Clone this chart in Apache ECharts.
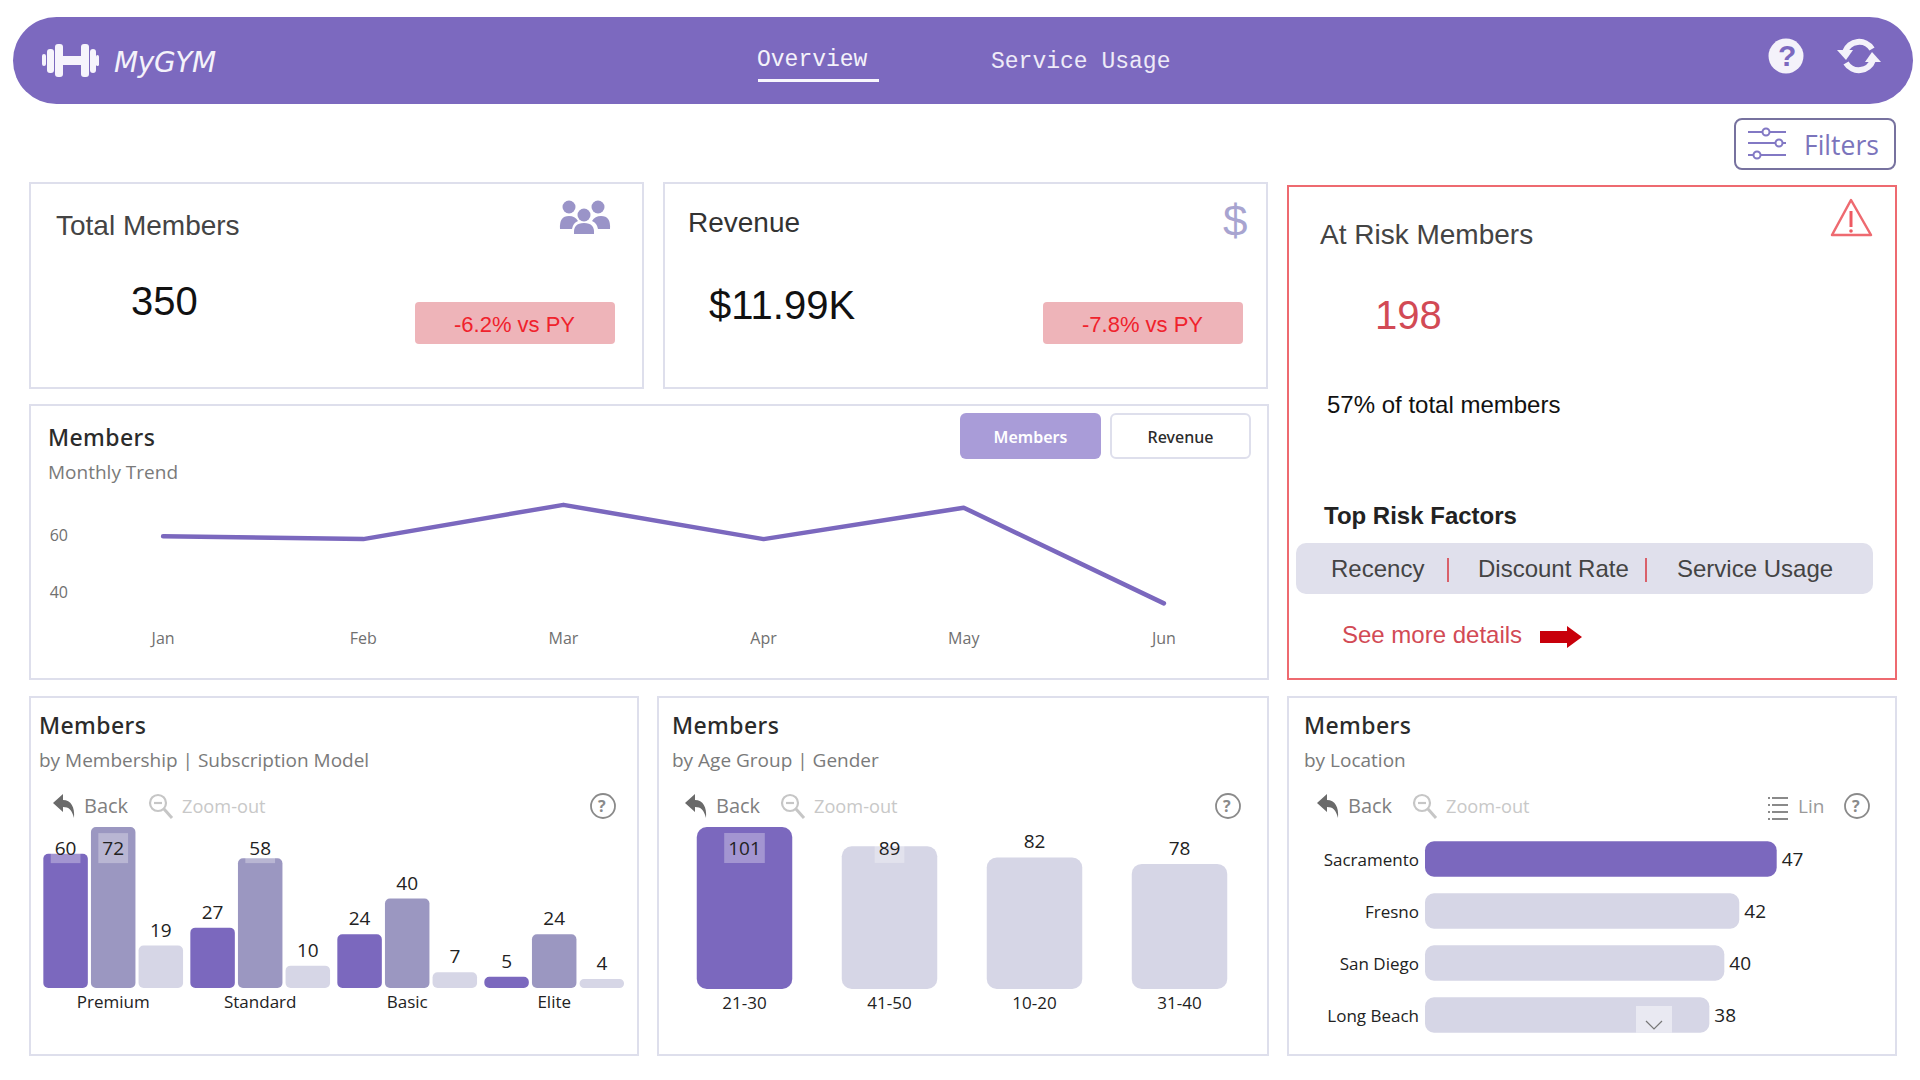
<!DOCTYPE html>
<html>
<head>
<meta charset="utf-8">
<title>MyGYM</title>
<script src="https://cdn.jsdelivr.net/npm/echarts@6/dist/echarts.min.js"></script>
<style>
  html, body { margin: 0; width: 1920px; height: 1080px; overflow: hidden; background: #fff; }
  body { position: relative; font-family: "Liberation Sans", Arial, sans-serif; color: #444; }
  .box { position: absolute; box-sizing: border-box; }
  .card { border: 2px solid #dedfec; }
  .t { position: absolute; transform: translateY(-50%); white-space: nowrap; line-height: 1; }
  .ui { font-family: "Open Sans", sans-serif; }
  .title { font-family: "Noto Sans", sans-serif; font-weight: 500; font-size: 23px; letter-spacing: .4px; color: #2b2b2b; }
  .sub { font-size: 19px; color: #7a7a7a; }
  .chart { position: absolute; }
  svg.icon { position: absolute; overflow: visible; }
</style>
</head>
<body>

<!-- bandeau du haut -->
<div class="box" style="left:13px;top:17px;width:1900px;height:87px;border-radius:44px;background:#7c69bf"></div>
<svg class="icon" style="left:0;top:0" width="10" height="10">
  <g fill="#f6f4fc">
    <rect x="42" y="54" width="4" height="12" rx="2"/>
    <rect x="47" y="49" width="7" height="24" rx="3"/>
    <rect x="55" y="44" width="8" height="33" rx="3"/>
    <rect x="62" y="56" width="21" height="9"/>
    <rect x="81" y="44" width="8" height="33" rx="3"/>
    <rect x="90" y="49" width="6" height="24" rx="3"/>
    <rect x="96" y="55" width="3" height="11" rx="1.5"/>
  </g>
  <circle cx="1786" cy="56" r="17.5" fill="#f4f2fa"/>
  <g fill="none" stroke="#f4f2fa" stroke-width="6">
    <path d="M1845 52 A15 15 0 0 1 1872 49"/>
    <path d="M1873 60 A15 15 0 0 1 1846 63"/>
  </g>
  <path d="M1837 50 L1853 50 L1846 60 Z" fill="#f4f2fa"/>
  <path d="M1881 62 L1865 62 L1872 52 Z" fill="#f4f2fa"/>
</svg>
<div class="t" style="left:114px;top:62px;font:italic 28px 'DejaVu Sans';color:#f4f2fa;letter-spacing:-.4px">MyGYM</div>
<div class="t" style="left:757px;top:60px;font:23px 'Liberation Mono';color:#f4f2fa">Overview</div>
<div class="box" style="left:758px;top:79px;width:121px;height:3px;background:#f8f7fd"></div>
<div class="t" style="left:991px;top:62px;font:23px 'Liberation Mono';color:#eeebf8">Service Usage</div>
<div class="t" style="left:1786px;top:56px;width:0;font:bold 30px 'Liberation Sans';color:#7c69bf;text-indent:-8px">?</div>

<!-- bouton filtres -->
<div class="box" style="left:1734px;top:118px;width:162px;height:52px;border:2px solid #77729f;border-radius:8px"></div>
<svg class="icon" style="left:0;top:0" width="10" height="10">
  <g stroke="#8278c4" stroke-width="2" fill="#fff">
    <path d="M1748 132H1786M1748 143H1786M1748 155H1786"/>
    <circle cx="1766" cy="132" r="3.5"/><circle cx="1779" cy="143" r="3.5"/><circle cx="1757" cy="155" r="3.5"/>
  </g>
</svg>
<div class="t ui" style="left:1804px;top:145px;font-size:26.5px;color:#7b74bc">Filters</div>

<!-- KPI -->
<div class="box card" style="left:29px;top:182px;width:615px;height:207px"></div>
<div class="t" style="left:56px;top:226px;font-size:28px">Total Members</div>
<svg class="icon" style="left:0;top:0" width="10" height="10">
  <g fill="#9a94c8">
    <circle cx="569" cy="207" r="6.5"/><path d="M560 229 q-1 -13 9 -13 q6 0 9 5 q-5 2 -6 8 Z"/>
    <circle cx="598" cy="207" r="6.5"/><path d="M610 229 q1 -13 -9 -13 q-6 0 -9 5 q5 2 6 8 Z"/>
    <circle cx="584" cy="215" r="6.5"/><path d="M574 234 q-1 -11 10 -11 q11 0 10 11 Z"/>
  </g>
</svg>
<div class="t" style="left:131px;top:301px;font-size:40px;color:#111">350</div>
<div class="box" style="left:415px;top:302px;width:200px;height:42px;background:#eeb4b9;border-radius:4px"></div>
<div class="t" style="left:454px;top:325px;font-size:22px;color:#f0222c">-6.2% vs PY</div>

<div class="box card" style="left:663px;top:182px;width:605px;height:207px"></div>
<div class="t" style="left:688px;top:223px;font-size:28px;color:#333">Revenue</div>
<div class="t" style="left:1223px;top:221px;font-size:44px;color:#a8a4d0">$</div>
<div class="t" style="left:709px;top:305px;font-size:40px;color:#111">$11.99K</div>
<div class="box" style="left:1043px;top:302px;width:200px;height:42px;background:#eeb4b9;border-radius:4px"></div>
<div class="t" style="left:1082px;top:325px;font-size:22px;color:#f0222c">-7.8% vs PY</div>

<!-- carte membres a risque -->
<div class="box" style="left:1287px;top:185px;width:610px;height:495px;border:2px solid #ee6a70"></div>
<div class="t" style="left:1320px;top:235px;font-size:28px">At Risk Members</div>
<svg class="icon" style="left:0;top:0" width="10" height="10">
  <path d="M1851 200 L1871 235 H1832 Z" fill="none" stroke="#ee6a70" stroke-width="2.5" stroke-linejoin="round"/>
  <path d="M1851 211 V227" stroke="#ee5a62" stroke-width="3"/><circle cx="1851" cy="231" r="1.8" fill="#ee5a62"/>
  <path d="M1540 631 H1567 V626 L1582 637 L1567 648 V643 H1540 Z" fill="#c8000a"/>
</svg>
<div class="t" style="left:1375px;top:315px;font-size:40px;color:#d24a55">198</div>
<div class="t" style="left:1327px;top:405px;font-size:24px;color:#111">57% of total members</div>
<div class="t" style="left:1324px;top:516px;font-size:24px;font-weight:bold;color:#222">Top Risk Factors</div>
<div class="box" style="left:1296px;top:543px;width:577px;height:51px;background:#e0e0ec;border-radius:10px"></div>
<div class="t" style="left:1331px;top:569px;font-size:24px">Recency</div>
<div class="box" style="left:1447px;top:558px;width:2px;height:24px;background:#d9606a"></div>
<div class="t" style="left:1478px;top:569px;font-size:24px">Discount Rate</div>
<div class="box" style="left:1645px;top:558px;width:2px;height:24px;background:#d9606a"></div>
<div class="t" style="left:1677px;top:569px;font-size:24px">Service Usage</div>
<div class="t" style="left:1342px;top:635px;font-size:24px;color:#d24a55">See more details</div>

<!-- tendance mensuelle -->
<div class="box card" style="left:29px;top:404px;width:1240px;height:276px"></div>
<div class="t title" style="left:48px;top:437px">Members</div>
<div class="t ui sub" style="left:48px;top:472px">Monthly Trend</div>
<div class="box" style="left:960px;top:413px;width:141px;height:46px;background:#a99cd8;border-radius:6px"></div>
<div class="t title" style="left:960px;width:141px;text-align:center;top:437px;font-size:16px;font-weight:600;letter-spacing:0;color:#fff">Members</div>
<div class="box" style="left:1110px;top:413px;width:141px;height:46px;border:2px solid #dedfec;border-radius:6px"></div>
<div class="t title" style="left:1110px;width:141px;text-align:center;top:437px;font-size:16px;letter-spacing:0">Revenue</div>
<div class="chart" id="trendChart" style="left:29px;top:405px;width:1240px;height:275px"></div>

<!-- cartes du bas -->
<div class="box card" style="left:29px;top:696px;width:610px;height:360px"></div>
<div class="t title" style="left:39px;top:725px">Members</div>
<div class="t ui sub" style="left:39px;top:760px">by Membership | Subscription Model</div>
<div class="chart" id="membershipChart" style="left:29px;top:696px;width:610px;height:360px"></div>

<div class="box card" style="left:657px;top:696px;width:612px;height:360px"></div>
<div class="t title" style="left:672px;top:725px">Members</div>
<div class="t ui sub" style="left:672px;top:760px">by Age Group | Gender</div>
<div class="chart" id="ageChart" style="left:657px;top:696px;width:612px;height:360px"></div>

<div class="box card" style="left:1287px;top:696px;width:610px;height:360px"></div>
<div class="t title" style="left:1304px;top:725px">Members</div>
<div class="t ui sub" style="left:1304px;top:760px">by Location</div>
<div class="chart" id="locationChart" style="left:1287px;top:696px;width:610px;height:360px"></div>
<div class="box" style="left:1636px;top:1006px;width:36px;height:27px;background:#e9e9f2"></div>
<svg class="icon" style="left:0;top:0" width="10" height="10">
  <path d="M1646 1021 L1654 1029 L1662 1021" fill="none" stroke="#777" stroke-width="1.2"/>
  <g stroke="#8a8a8a" stroke-width="2">
    <path d="M1772 798H1788M1772 805H1788M1772 812H1788M1772 819H1788"/>
    <path d="M1768 798H1770M1768 805H1770M1768 812H1770M1768 819H1770"/>
  </g>
</svg>
<div class="t ui" style="left:1798px;top:806px;font-size:19px;color:#9a9a9a">Lin</div>

<script>
const FONT = 'Open Sans';
const PURPLE = '#7b68be';
const MID = '#9b97c1';
const LIGHT = '#d6d6e6';

const months = [ 'Jan', 'Feb', 'Mar', 'Apr', 'May', 'Jun' ];
const membersByMonth = [ 59.5, 58.5, 70.5, 58.5, 69.5, 36 ];
const trendTicks = [ 40, 60 ];

const tiers = [ 'Premium', 'Standard', 'Basic', 'Elite' ];
const subscriptionA = [ 60, 27, 24, 5 ];
const subscriptionB = [ 72, 58, 40, 24 ];
const subscriptionC = [ 19, 10, 7, 4 ];

const ageGroups = [ '21-30', '41-50', '10-20', '31-40' ];
const ageMembers = [ 101, 89, 82, 78 ];

const locations = [ 'Sacramento', 'Fresno', 'San Diego', 'Long Beach' ];
const locationMembers = [ 47, 42, 40, 38 ];

// Barre d'outils Back / Zoom-out / aide de chaque carte du bas
function addToolbar ( backX, helpX ) {
  const zoomX = backX + 96;
  document.body.insertAdjacentHTML( 'beforeend', `
    <svg class="icon" style="left:0;top:0" width="10" height="10">
      <path transform="translate(${ backX },794)" d="M10 0 L0 9 L10 18 V13 C16 13 19 16 21 24 C22 13 18 6 10 6 Z" fill="#6a6a6a"/>
      <g transform="translate(${ zoomX },794)" fill="none" stroke="#c6c6c6" stroke-width="2.2">
        <circle cx="9" cy="9" r="8"/><path d="M5 9H13"/><path d="M15 15L23 24" stroke-width="3"/>
      </g>
      <g>
        <circle cx="${ helpX }" cy="806" r="12" fill="none" stroke="#8a8a8a" stroke-width="1.8"/>
      </g>
    </svg>
    <div class="t ui" style="left:${ backX + 31 }px;top:806px;font-size:20px;color:#808080">Back</div>
    <div class="t ui" style="left:${ zoomX + 33 }px;top:806px;font-size:18.2px;color:#c8c8c8">Zoom-out</div>
    <div class="t ui" style="left:${ helpX - 5 }px;top:806px;font-size:16px;font-weight:700;color:#8a8a8a">?</div>
  ` );
}
addToolbar( 53, 603 );
addToolbar( 685, 1228 );
addToolbar( 1317, 1857 );

const trendChart = echarts.init( document.getElementById( 'trendChart' ), null, { renderer: 'svg' } );
trendChart.setOption( {
  animation: false,
  grid: { left: 34, width: 1201, top: 87, height: 128.5 },
  xAxis: {
    type: 'category',
    data: months,
    axisLine: { show: false },
    axisTick: { show: false },
    axisLabel: { fontFamily: FONT, fontSize: 16, color: '#707070', margin: 9 }
  },
  yAxis: {
    type: 'value',
    min: 30,
    max: 75,
    splitLine: { show: false },
    axisLine: { show: false },
    axisTick: { show: false },
    axisLabel: { customValues: trendTicks, fontFamily: FONT, fontSize: 16, color: '#707070', margin: -5 }
  },
  series: [ {
    type: 'line',
    data: membersByMonth,
    symbol: 'none',
    lineStyle: { color: PURPLE, width: 4.5, cap: 'round', join: 'round' }
  } ]
} );

/**
 * Etiquette d'une barre. Au dessus de "threshold" l'etiquette reste coincee sous la barre d'outils,
 * avec le petit fond translucide.
 */
function barLabel ( value, threshold, clampValue, pxPerUnit ) {
  if ( value < threshold ) {
    return { position: 'top', distance: 5 };
  }
  return {
    position: 'top',
    distance: 1,
    offset: [ 0, ( value - clampValue ) * pxPerUnit ],
    padding: [ 4, 4 ],
    backgroundColor: 'rgba(255,255,255,0.3)'
  };
}

const BAR_LABEL = { show: true, fontFamily: FONT, fontSize: 19, lineHeight: 22, color: '#222' };
const CAT_LABEL = { fontFamily: FONT, fontSize: 17, color: '#222', margin: 5 };

function hiddenValueAxis ( max ) {
  return { type: 'value', min: 0, max, show: false };
}

const membershipChart = echarts.init( document.getElementById( 'membershipChart' ), null, { renderer: 'svg' } );
membershipChart.setOption( {
  animation: false,
  grid: { left: 10.7, width: 588, top: 131, height: 161 },
  xAxis: { type: 'category', data: tiers, axisLine: { show: false }, axisTick: { show: false }, axisLabel: CAT_LABEL },
  yAxis: hiddenValueAxis( 72 ),
  series: [ [ subscriptionA, PURPLE ], [ subscriptionB, MID ], [ subscriptionC, LIGHT ] ].map( ( [ values, color ] ) => ( {
    type: 'bar',
    barWidth: 44.5,
    barGap: '7%',
    itemStyle: { color, borderRadius: 5 },
    label: BAR_LABEL,
    data: values.map( ( value ) => ( { value, label: barLabel( value, 55.4, 55.4, 161 / 72 ) } ) )
  } ) )
} );

const ageChart = echarts.init( document.getElementById( 'ageChart' ), null, { renderer: 'svg' } );
ageChart.setOption( {
  animation: false,
  grid: { left: 15, width: 580, top: 131, height: 162 },
  xAxis: { type: 'category', data: ageGroups, axisLine: { show: false }, axisTick: { show: false }, axisLabel: CAT_LABEL },
  yAxis: hiddenValueAxis( 101 ),
  series: [ {
    type: 'bar',
    barWidth: 95.5,
    itemStyle: { borderRadius: 10 },
    label: BAR_LABEL,
    data: ageMembers.map( ( value, i ) => ( {
      value,
      itemStyle: { color: i === 0 ? PURPLE : LIGHT },
      label: barLabel( value, 85, 78, 162 / 101 )
    } ) )
  } ]
} );

const locationChart = echarts.init( document.getElementById( 'locationChart' ), null, { renderer: 'svg' } );
locationChart.setOption( {
  animation: false,
  grid: { left: 138, width: 351.7, top: 137, height: 208 },
  xAxis: hiddenValueAxis( 47 ),
  yAxis: {
    type: 'category',
    inverse: true,
    data: locations,
    axisLine: { show: false },
    axisTick: { show: false },
    axisLabel: { fontFamily: FONT, fontSize: 17, color: '#222', margin: 6 }
  },
  series: [ {
    type: 'bar',
    barWidth: 35.3,
    itemStyle: { borderRadius: 9 },
    label: { show: true, position: 'right', distance: 5, fontFamily: FONT, fontSize: 19, color: '#222' },
    data: locationMembers.map( ( value, i ) => ( {
      value,
      itemStyle: { color: i === 0 ? PURPLE : LIGHT }
    } ) )
  } ]
} );
</script>
</body>
</html>
